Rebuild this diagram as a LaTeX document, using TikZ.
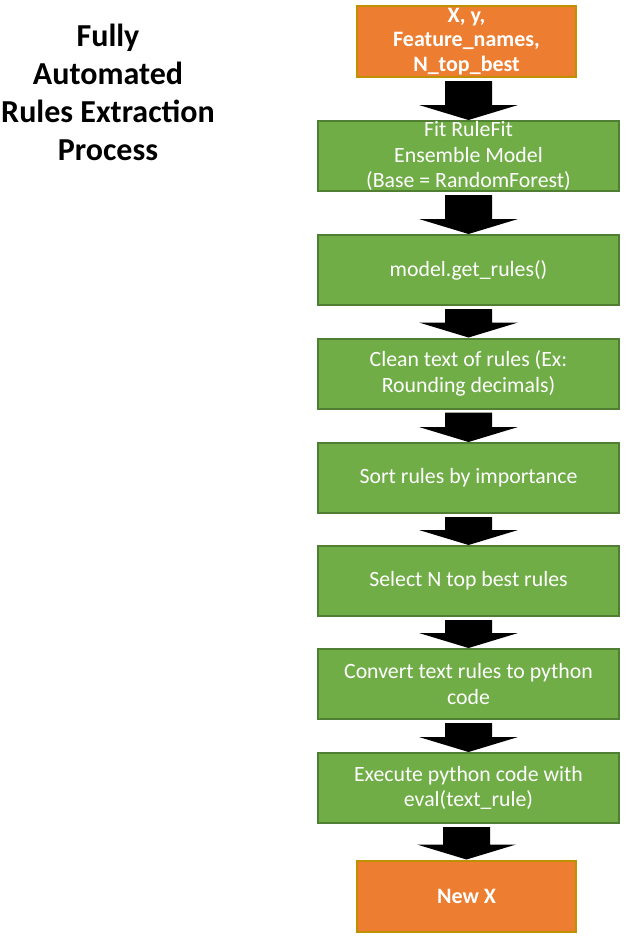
\documentclass[tikz,border=0pt]{standalone}
\usepackage{fontspec}
\setmainfont{Carlito}
\usepackage{tikz}
\usetikzlibrary{calc,positioning}
\definecolor{boxorange}{HTML}{ED7D31}
\definecolor{edgeorange}{HTML}{BF9000}
\definecolor{boxgreen}{HTML}{70AD47}
\definecolor{edgegreen}{HTML}{507E32}
\tikzset{
  iobox/.style={draw=edgeorange,fill=boxorange,line width=2pt,minimum width=219pt,minimum height=71pt,inner sep=0pt,align=center,text=white,font=\fontsize{22}{24.5}\selectfont\bfseries},
  stepbox/.style={draw=edgegreen,fill=boxgreen,line width=2pt,minimum width=301pt,minimum height=70pt,inner sep=0pt,align=center,text=white,font=\fontsize{21.8}{25.5}\selectfont},
  titletext/.style={align=center,font=\fontsize{32}{38}\selectfont\bfseries}
}
\begin{document}
\begin{tikzpicture}[x=1pt,y=1pt]
\useasboundingbox (0,0) rectangle (628,-938);
\node[titletext] (title) at (108,-92) {Fully\\Automated\\Rules Extraction\\Process};
\node[iobox] (in) at (466.5,-41.5) {X, y,\\Feature\_names,\\N\_top\_best};
\node[stepbox] (fit) at (468.5,-156) {Fit RuleFit\\Ensemble Model\\(Base = RandomForest)};
\node[stepbox] (rules) at (468.5,-270) {model.get\_rules()};
\node[stepbox] (clean) at (468.5,-373.5) {Clean text of rules (Ex:\\Rounding decimals)};
\node[stepbox] (sort) at (468.5,-478) {Sort rules by importance};
\node[stepbox] (select) at (468.5,-581) {Select N top best rules};
\node[stepbox] (convert) at (468.5,-684) {Convert text rules to python\\code};
\node[stepbox] (exec) at (468.5,-788) {Execute python code with\\eval(text\_rule)};
\node[iobox] (out) at (466.5,-896) {New X};
% block arrows between the steps
\foreach \a/\b in {in/fit,fit/rules,rules/clean,clean/sort,sort/select,select/convert,convert/exec,exec/out}
  \fill[black] ($(\b.north|-\a.south)+(-23.5,-3)$) -- ($(\b.north)+(-23.5,15)$) -- ($(\b.north)+(-49.5,15)$)
    -- (\b.north) -- ($(\b.north)+(49.5,15)$) -- ($(\b.north)+(23.5,15)$) -- ($(\b.north|-\a.south)+(23.5,-3)$) -- cycle;
\end{tikzpicture}
\end{document}
